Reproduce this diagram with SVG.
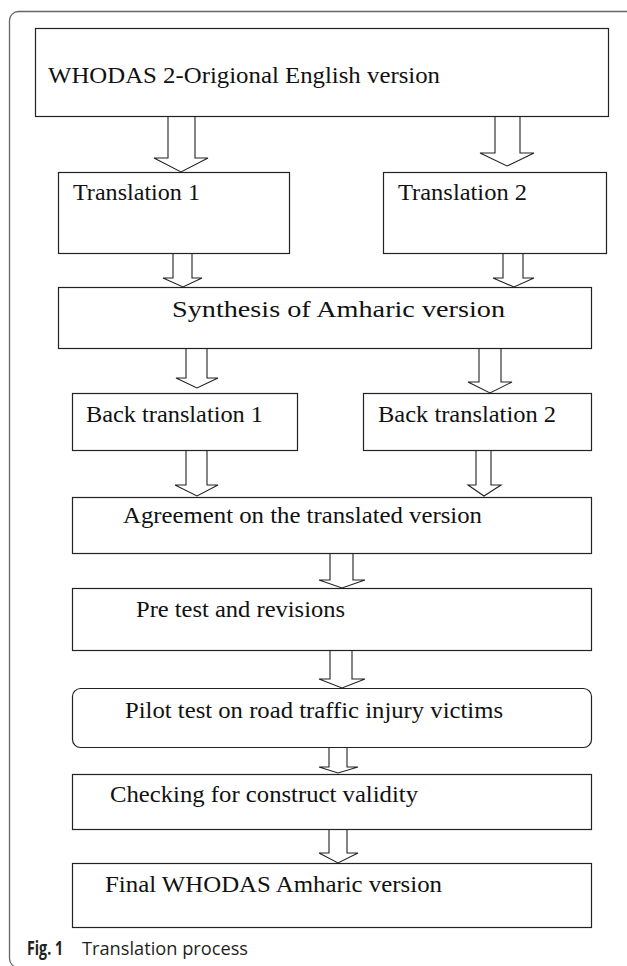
<svg xmlns="http://www.w3.org/2000/svg" width="627" height="966" viewBox="0 0 627 966">
<style>
.bx{fill:#fff;stroke:#222;stroke-width:1.2}
.ar{fill:#fff;stroke:#222;stroke-width:1.1;stroke-linejoin:miter}
.t{font-family:"Liberation Serif","Times New Roman",serif;font-size:24px;fill:#111}
.cap{font-family:"Open Sans","Liberation Sans",sans-serif;font-size:19px;fill:#231f20}
</style>
<rect x="0" y="0" width="627" height="966" fill="#fff"/>
<rect x="9.5" y="11.5" width="640" height="956" rx="9" fill="none" stroke="#666" stroke-width="1.3"/>
<g id="connectors">
<polygon class="ar" points="168,116 195,116 195,158 208,158 181,172 154,158 168,158"/>
<polygon class="ar" points="495,116 520,116 520,153 534,153 507,166 480,153 495,153"/>
<polygon class="ar" points="173,253 192,253 192,278 202,278 183,287 163,278 173,278"/>
<polygon class="ar" points="503,253 523,253 523,278 534,278 514,287 493,278 503,278"/>
<polygon class="ar" points="186,348 207,348 207,378 218,378 197,388 176,378 186,378"/>
<polygon class="ar" points="479,348 501,348 501,382 512,382 490,393 468,382 479,382"/>
<polygon class="ar" points="186,450 207,450 207,485 218,485 197,496 175,485 186,485"/>
<polygon class="ar" points="476,450 491,450 491,485 501,485 484,496 468,485 476,485"/>
<polygon class="ar" points="330,553 353,553 353,580 365,580 342,588 319,580 330,580"/>
<polygon class="ar" points="330,650 352,650 352,679 365,679 342,688 319,679 330,679"/>
<polygon class="ar" points="329,747 347,747 347,767 358,767 338,773 319,767 329,767"/>
<polygon class="ar" points="329,829 347,829 347,853 358,853 338,863 319,853 329,853"/>
</g>
<g id="n1"><rect class="bx" x="35.5" y="28.5" width="573" height="88"/><text class="t" x="48" y="83" font-size="25" textLength="392" lengthAdjust="spacingAndGlyphs">WHODAS 2-Origional English version</text></g>
<g id="n2"><rect class="bx" x="58.5" y="172.5" width="231" height="81"/><text class="t" x="73" y="200" textLength="127" lengthAdjust="spacingAndGlyphs">Translation 1</text></g>
<g id="n3"><rect class="bx" x="383.5" y="172.5" width="223" height="81"/><text class="t" x="398" y="200" textLength="129" lengthAdjust="spacingAndGlyphs">Translation 2</text></g>
<g id="n4"><rect class="bx" x="58.5" y="287.5" width="533" height="61"/><text class="t" x="172" y="317" font-size="28" textLength="333" lengthAdjust="spacingAndGlyphs">Synthesis of Amharic version</text></g>
<g id="n5"><rect class="bx" x="72.5" y="393.5" width="225" height="57"/><text class="t" x="86" y="422" textLength="177" lengthAdjust="spacingAndGlyphs">Back translation 1</text></g>
<g id="n6"><rect class="bx" x="363.5" y="393.5" width="228" height="57"/><text class="t" x="378" y="422" textLength="178" lengthAdjust="spacingAndGlyphs">Back translation 2</text></g>
<g id="n7"><rect class="bx" x="72.5" y="497.5" width="519" height="56"/><text class="t" x="123" y="523" textLength="359" lengthAdjust="spacingAndGlyphs">Agreement on the translated version</text></g>
<g id="n8"><rect class="bx" x="72.5" y="588.5" width="519" height="62"/><text class="t" x="136" y="617" textLength="209" lengthAdjust="spacingAndGlyphs">Pre test and revisions</text></g>
<g id="n9"><rect class="bx" x="72.5" y="688.5" width="519" height="59" rx="8"/><text class="t" x="125" y="718" textLength="378" lengthAdjust="spacingAndGlyphs">Pilot test on road traffic injury victims</text></g>
<g id="n10"><rect class="bx" x="72.5" y="774.5" width="519" height="55"/><text class="t" x="110" y="802" textLength="308" lengthAdjust="spacingAndGlyphs">Checking for construct validity</text></g>
<g id="n11"><rect class="bx" x="72.5" y="863.5" width="519" height="64"/><text class="t" x="105" y="892" textLength="337" lengthAdjust="spacingAndGlyphs">Final WHODAS Amharic version</text></g>
<g id="caption"><text class="cap" x="27" y="955" font-weight="bold" textLength="36" lengthAdjust="spacingAndGlyphs">Fig. 1</text><text class="cap" x="82" y="955" textLength="166" lengthAdjust="spacingAndGlyphs">Translation process</text></g>
</svg>
